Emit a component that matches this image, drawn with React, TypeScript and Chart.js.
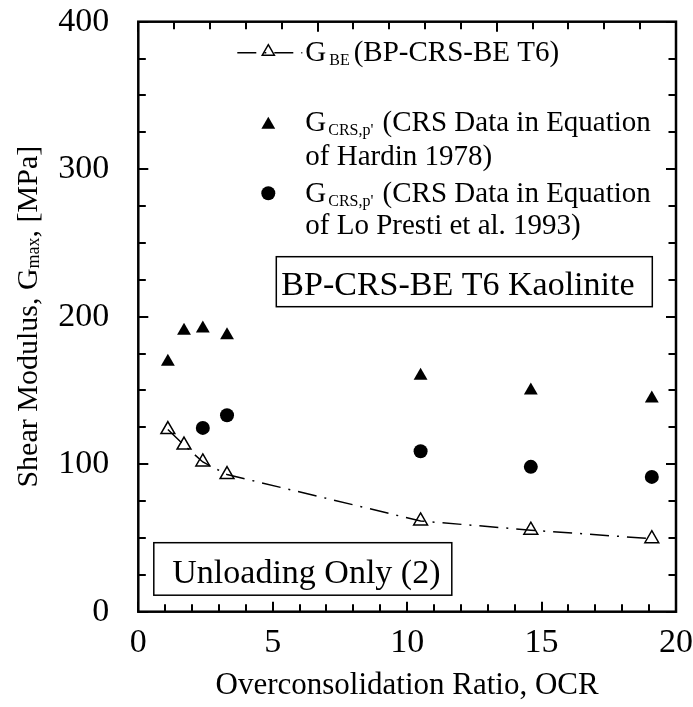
import React, { useEffect, useRef } from "react";
import { Chart, registerables } from "chart.js";

Chart.register(...registerables);

// ---- data ----
const OCR_BE = [1.1, 1.7, 2.4, 3.3, 10.5, 14.6, 19.1];
const G_BE = [123.5, 113, 101.5, 93, 61.5, 55.3, 49.5];
const OCR_HARDIN = [1.1, 1.7, 2.4, 3.3, 10.5, 14.6, 19.1];
const G_HARDIN = [169.5, 190.5, 192, 187.5, 160, 150, 144.5];
const OCR_LOPRESTI = [2.4, 3.3, 10.5, 14.6, 19.1];
const G_LOPRESTI = [124.6, 133.2, 108.8, 98.2, 91.4];

const X_TICKS = [0, 5, 10, 15, 20];
const Y_TICKS = [0, 100, 200, 300, 400];
const X_MINOR_STEP = 1;
const Y_MINOR_STEP = 25;
const TOP_DIVISIONS = 15;

const SERIF = "'Liberation Serif', 'Times New Roman', Times, serif";

type Part = { t: string; size: number; dy?: number; gap?: number };

function drawRich(ctx: CanvasRenderingContext2D, parts: Part[], x: number, y: number) {
  let cx = x;
  for (const p of parts) {
    cx += p.gap || 0;
    ctx.font = `${p.size}px ${SERIF}`;
    ctx.fillText(p.t, cx, y + (p.dy || 0));
    cx += ctx.measureText(p.t).width;
  }
}

const decor = {
  id: "decor",
  afterDraw(chart: any) {
    const { ctx, chartArea: a, scales } = chart;
    const xs = scales.x;
    const ys = scales.y;
    ctx.save();
    ctx.strokeStyle = "#000";
    ctx.fillStyle = "#000";
    ctx.lineCap = "butt";

    // inward ticks
    ctx.lineWidth = 2;
    ctx.beginPath();
    for (let v = xs.min; v <= xs.max + 1e-9; v += X_MINOR_STEP) {
      const px = Math.round(xs.getPixelForValue(v));
      const len = v % 5 === 0 ? 10 : 7.5;
      ctx.moveTo(px, a.bottom);
      ctx.lineTo(px, a.bottom - len);
    }
    for (let i = 0; i <= TOP_DIVISIONS; i++) {
      const px = Math.round(a.left + (i * (a.right - a.left)) / TOP_DIVISIONS);
      const len = i % 5 === 0 ? 10 : 7.5;
      ctx.moveTo(px, a.top);
      ctx.lineTo(px, a.top + len);
    }
    for (let v = ys.min; v <= ys.max + 1e-9; v += Y_MINOR_STEP) {
      const py = Math.round(ys.getPixelForValue(v));
      const len = v % 100 === 0 ? 10 : 7.5;
      ctx.moveTo(a.left, py);
      ctx.lineTo(a.left + len, py);
      ctx.moveTo(a.right, py);
      ctx.lineTo(a.right - len, py);
    }
    ctx.stroke();

    // frame
    ctx.lineWidth = 2.5;
    ctx.strokeRect(a.left, a.top, a.right - a.left, a.bottom - a.top);

    // legend
    const L = a.left;
    const T = a.top;
    ctx.textBaseline = "alphabetic";
    ctx.textAlign = "left";
    // entry 1: dash-dot line with open triangle
    ctx.lineWidth = 1.5;
    ctx.setLineDash([19, 8, 2, 8]);
    ctx.beginPath();
    ctx.moveTo(L + 99, T + 31);
    ctx.lineTo(L + 164, T + 31);
    ctx.stroke();
    ctx.setLineDash([]);
    const tri = (x: number, y: number, r: number, fill: boolean) => {
      ctx.beginPath();
      let rad = 0;
      ctx.moveTo(x + Math.sin(rad) * r, y - Math.cos(rad) * r);
      rad += (2 * Math.PI) / 3;
      ctx.lineTo(x + Math.sin(rad) * r, y - Math.cos(rad) * r);
      rad += (2 * Math.PI) / 3;
      ctx.lineTo(x + Math.sin(rad) * r, y - Math.cos(rad) * r);
      ctx.closePath();
      if (fill) ctx.fill();
      else ctx.stroke();
    };
    tri(L + 130, T + 30, 7, false);
    drawRich(
      ctx,
      [
        { t: "G", size: 29 },
        { t: "BE", size: 16, dy: 4, gap: 3 },
        { t: "(BP-CRS-BE T6)", size: 29, gap: 4 },
      ],
      L + 167,
      T + 39
    );
    // entry 2
    tri(L + 130, T + 103, 8, true);
    drawRich(
      ctx,
      [
        { t: "G", size: 29 },
        { t: "CRS,p'", size: 16, dy: 4, gap: 2 },
        { t: " (CRS Data in Equation", size: 29, gap: 2 },
      ],
      L + 167,
      T + 109
    );
    drawRich(ctx, [{ t: "of Hardin 1978)", size: 29 }], L + 167, T + 143);
    // entry 3
    ctx.beginPath();
    ctx.arc(L + 130, T + 171.5, 7, 0, Math.PI * 2);
    ctx.fill();
    drawRich(
      ctx,
      [
        { t: "G", size: 29 },
        { t: "CRS,p'", size: 16, dy: 4, gap: 2 },
        { t: " (CRS Data in Equation", size: 29, gap: 2 },
      ],
      L + 167,
      T + 180
    );
    drawRich(ctx, [{ t: "of Lo Presti et al. 1993)", size: 29 }], L + 167, T + 212);

    // annotation boxes
    ctx.lineWidth = 1.5;
    ctx.strokeRect(L + 138, T + 235, 376, 50);
    drawRich(ctx, [{ t: "BP-CRS-BE T6 Kaolinite", size: 34 }], L + 143, T + 273);
    ctx.strokeRect(L + 15.5, T + 521, 298, 52.5);
    drawRich(ctx, [{ t: "Unloading Only (2)", size: 34 }], L + 34, T + 561);

    // axis titles
    ctx.textAlign = "center";
    ctx.textBaseline = "middle";
    ctx.font = `31px ${SERIF}`;
    ctx.fillText("Overconsolidation Ratio, OCR", (a.left + a.right) / 2, 686);

    ctx.save();
    ctx.translate(29, (a.top + a.bottom) / 2);
    ctx.rotate(-Math.PI / 2);
    ctx.textBaseline = "middle";
    const parts: Part[] = [
      { t: "Shear Modulus, G", size: 30 },
      { t: "max", size: 18, dy: 5 },
      { t: ", [MPa]", size: 30 },
    ];
    let total = 0;
    for (const p of parts) {
      ctx.font = `${p.size}px ${SERIF}`;
      total += ctx.measureText(p.t).width;
    }
    ctx.textAlign = "left";
    drawRich(ctx, parts, -total / 2, 0);
    ctx.restore();

    ctx.restore();
  },
};

export default function App() {
  const ref = useRef<HTMLCanvasElement | null>(null);
  useEffect(() => {
    if (!ref.current) return;
    const tickFont = { family: SERIF, size: 34 };
    const chart = new Chart(ref.current, {
      type: "scatter",
      data: {
        datasets: [
          {
            label: "G_BE (BP-CRS-BE T6)",
            data: OCR_BE.map((x, i) => ({ x, y: G_BE[i] })),
            showLine: true,
            borderColor: "#000",
            borderWidth: 1.5,
            borderDash: [19, 8, 2, 8],
            pointStyle: "triangle",
            pointRadius: 8,
            pointBorderWidth: 1.5,
            pointBackgroundColor: "rgba(0,0,0,0)",
            pointBorderColor: "#000",
            backgroundColor: "rgba(0,0,0,0)",
          } as any,
          {
            label: "G_CRS,p' (Hardin 1978)",
            data: OCR_HARDIN.map((x, i) => ({ x, y: G_HARDIN[i] })),
            showLine: false,
            pointStyle: "triangle",
            pointRadius: 8,
            pointBorderWidth: 0,
            pointBackgroundColor: "#000",
            pointBorderColor: "#000",
          },
          {
            label: "G_CRS,p' (Lo Presti et al. 1993)",
            data: OCR_LOPRESTI.map((x, i) => ({ x, y: G_LOPRESTI[i] })),
            showLine: false,
            pointStyle: "circle",
            pointRadius: 7,
            pointBorderWidth: 0,
            pointBackgroundColor: "#000",
            pointBorderColor: "#000",
          },
        ],
      },
      options: {
        animation: false,
        responsive: false,
        devicePixelRatio: 1,
        layout: { padding: { left: 0, right: 17, top: 21.7, bottom: 0 } },
        plugins: { legend: { display: false }, tooltip: { enabled: false } },
        scales: {
          x: {
            type: "linear",
            min: 0,
            max: 20,
            grid: { display: false, drawTicks: false },
            border: { display: false },
            afterBuildTicks: (s: any) => {
              s.ticks = X_TICKS.map((v) => ({ value: v }));
            },
            afterFit: (s: any) => {
              s.height = 707 - 611.7;
              s.paddingLeft = 0;
              s.paddingRight = 0;
              s.paddingTop = 0;
              s.paddingBottom = 0;
            },
            ticks: { color: "#000", font: tickFont, padding: 11, maxRotation: 0, autoSkip: false },
          },
          y: {
            type: "linear",
            min: 0,
            max: 400,
            grid: { display: false, drawTicks: false },
            border: { display: false },
            afterBuildTicks: (s: any) => {
              s.ticks = Y_TICKS.map((v) => ({ value: v }));
            },
            afterFit: (s: any) => {
              s.width = 138.3;
              s.paddingLeft = 0;
              s.paddingRight = 0;
              s.paddingTop = 0;
              s.paddingBottom = 0;
            },
            ticks: { color: "#000", font: tickFont, padding: 29 },
          },
        },
      } as any,
      plugins: [decor],
    });
    return () => chart.destroy();
  }, []);
  return (
    <div style={{ position: "absolute", left: 0, top: 0, width: 693, height: 707, background: "#fff" }}>
      <canvas ref={ref} width={693} height={707} style={{ width: 693, height: 707, display: "block" }} />
    </div>
  );
}
